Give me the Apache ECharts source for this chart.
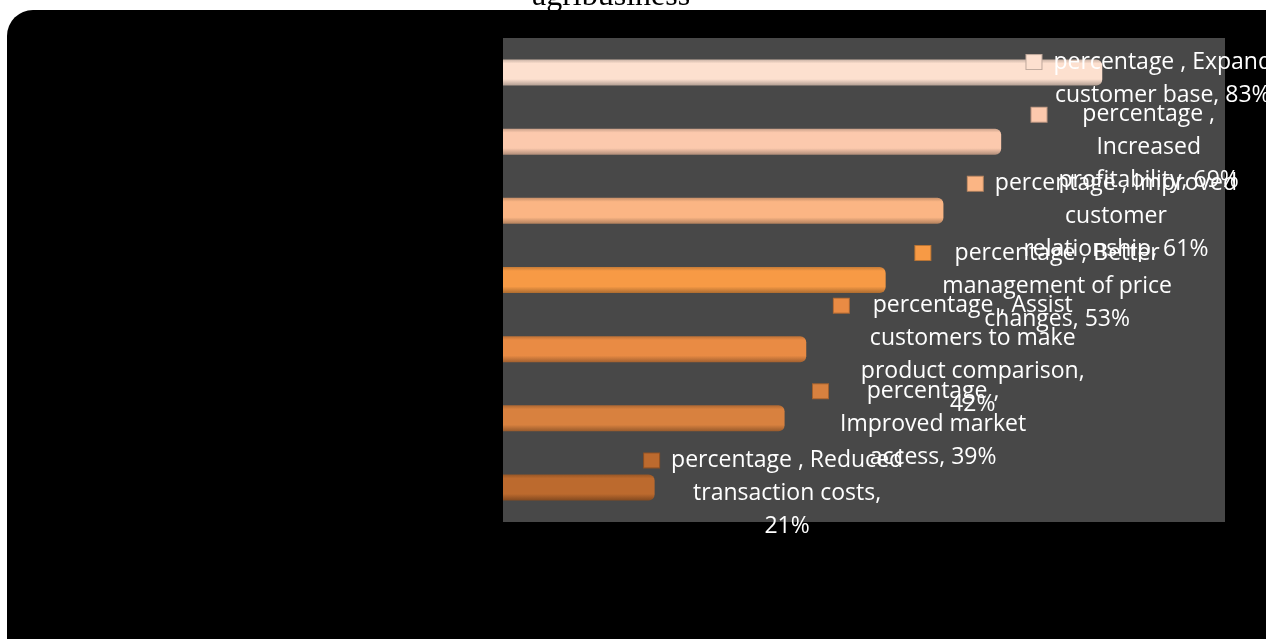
<!DOCTYPE html>
<html>
<head>
<meta charset="utf-8">
<script src="https://cdn.jsdelivr.net/npm/echarts@6/dist/echarts.min.js"></script>
<style>
  html, body { margin: 0; padding: 0; background: #fff; }
  #echarts_main { width: 1266px; height: 639px; }
</style>
</head>
<body>
<div id="echarts_main"></div>
<script>
// data
const categories = [
    'Expand customer base',
    'Increased profitability',
    'Improved customer relationship',
    'Better management of price changes',
    'Assist customers to make product comparison',
    'Improved market access',
    'Reduced transaction costs'
]
const values = [0.83, 0.69, 0.61, 0.53, 0.42, 0.39, 0.21]
const seriesName = 'percentage '
// how the label text wraps in the original
const labelLines = [
    ['percentage , Expand', 'customer base, 83%'],
    ['percentage ,', 'Increased', 'profitability, 69%'],
    ['percentage , Improved', 'customer', 'relationship, 61%'],
    ['percentage , Better', 'management of price', 'changes, 53%'],
    ['percentage , Assist', 'customers to make', 'product comparison,', '42%'],
    ['percentage ,', 'Improved market', 'access, 39%'],
    ['percentage , Reduced', 'transaction costs,', '21%']
]

const barColors = ['#fde0cf', '#fcc9ad', '#fbb584', '#f79a45', '#e98b44', '#d8813f', '#bc6a2e']
const labelGap = [47, 134, 159, 158, 153, 135, 119]

function shade(hex, k) {
    const n = parseInt(hex.slice(1), 16)
    const r = Math.round(((n >> 16) & 255) * k)
    const g = Math.round(((n >> 8) & 255) * k)
    const b = Math.round((n & 255) * k)
    return 'rgb(' + r + ',' + g + ',' + b + ')'
}

const chart = echarts.init(document.getElementById('echarts_main'))

const seriesData = values.map(function (v, i) {
    const c = barColors[i]
    const text = labelLines[i].map(function (line, j) {
        return (j === 0 ? '{m|}{g| }' : '{s| }') + '{t|' + line + '}'
    }).join('\n')
    return {
        value: v,
        itemStyle: {
            color: {
                type: 'linear', x: 0, y: 0, x2: 0, y2: 1,
                colorStops: [
                    { offset: 0, color: shade(c, 0.8) },
                    { offset: 0.15, color: c },
                    { offset: 0.75, color: c },
                    { offset: 1, color: shade(c, 0.7) }
                ]
            }
        },
        label: {
            distance: labelGap[i],
            formatter: text,
            rich: {
                m: {
                    width: 15, height: 14, align: 'left',
                    backgroundColor: c,
                    borderColor: shade(c, 0.75), borderWidth: 1
                },
                g: { width: 12, align: 'left' },
                s: { width: 27, align: 'left' },
                t: {
                    align: 'center', color: '#fff',
                    fontFamily: 'Open Sans', fontSize: 23, lineHeight: 33
                }
            }
        }
    }
})

const option = {
    backgroundColor: '#fff',
    animation: false,
    title: {
        text: 'agribusiness',
        left: 527,
        top: -24,
        textStyle: {
            fontFamily: 'Liberation Serif',
            fontSize: 32,
            fontWeight: 'normal',
            color: '#000'
        }
    },
    graphic: [{
        type: 'rect',
        z: -10,
        shape: { x: 7, y: 10, width: 1320, height: 700, r: 26 },
        style: { fill: '#000' }
    }],
    grid: {
        left: 503,
        right: 41,
        top: 38,
        bottom: 117,
        show: true,
        backgroundColor: '#484848',
        borderWidth: 0,
        shadowBlur: 4,
        shadowColor: 'rgba(0,0,0,0.6)'
    },
    xAxis: {
        type: 'value',
        min: 0,
        max: 1,
        show: false
    },
    yAxis: {
        type: 'category',
        inverse: true,
        data: categories,
        show: false
    },
    series: [{
        name: seriesName,
        type: 'bar',
        barWidth: 26,
        itemStyle: { borderRadius: [0, 6, 6, 0] },
        label: {
            show: true,
            position: 'right',
            align: 'center',
            verticalAlign: 'middle',
            offset: [0, 6]
        },
        data: seriesData
    }]
}

chart.setOption(option)
</script>
</body>
</html>
